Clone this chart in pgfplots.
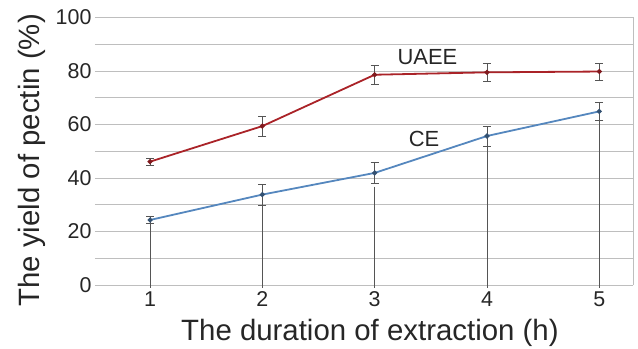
\documentclass[border=0pt]{standalone}
\usepackage{fontspec}
\setmainfont{Liberation Sans}
\usepackage{pgfplots}
\pgfplotsset{compat=1.18}
\definecolor{uaee}{RGB}{170,35,40}
\definecolor{ce}{RGB}{85,135,190}
\definecolor{gridc}{RGB}{190,190,190}
\definecolor{errc}{RGB}{85,85,85}
\begin{document}
\begin{tikzpicture}
\begin{axis}[
 scale only axis, width=538bp, height=267.5bp,
 xmin=0.51, xmax=5.30, ymin=0, ymax=100,
 xtick={1,2,3,4,5}, ytick={0,20,40,60,80,100},
 minor ytick={10,30,50,70,90},
 ymajorgrids, yminorgrids,
 major grid style={gridc, line width=0.9bp},
 minor grid style={gridc, line width=0.9bp},
 axis line style={draw=none},
 major tick length=0pt, minor tick length=0pt,
 tick label style={font=\fontsize{21.5}{24}\selectfont, text=black!85},
 xticklabel style={yshift=-3bp},
 /pgf/number format/assume math mode=true,
 xlabel={The duration of extraction (h)},
 ylabel={The yield of pectin (\%)},
 label style={font=\fontsize{29.5}{32}\selectfont, text=black!85},
 xlabel style={at={(ticklabel cs:0.511)}, yshift=-6bp},
 ylabel style={at={(ticklabel cs:0.466)}, yshift=3bp},
 clip=false,
 after end axis/.code={\draw[gridc, line width=0.9bp] (rel axis cs:1,0) -- (rel axis cs:1,1);},
]
% drop lines under CE
\addplot[draw=none, no marks, forget plot,
 error bars/.cd, y dir=minus, y explicit,
 error bar style={errc, line width=0.6bp}, error mark=none]
 coordinates {
 (1,22.9) -= (0,24.1)
 (2,29.9) -= (0,31.1)
 (3,36.8) -= (0,38.0)
 (4,51.8) -= (0,53.0)
 (5,61.6) -= (0,62.8)};
% UAEE
\addplot[uaee, line width=1.8bp, mark=*, mark size=1.5bp,
 mark options={fill=uaee!75!black, draw=uaee!75!black},
 error bars/.cd, y dir=both, y explicit,
 error bar style={errc, line width=0.6bp},
 error mark options={rotate=90, mark size=4bp, errc, line width=0.6bp}]
 coordinates {
 (1,46.1) +- (0,1.4)
 (2,59.4) +- (0,3.7)
 (3,78.6) +- (0,3.6)
 (4,79.5) +- (0,3.3)
 (5,79.8) +- (0,3.2)};
% CE
\addplot[ce, line width=1.8bp, mark=*, mark size=1.5bp,
 mark options={fill=ce!60!black, draw=ce!60!black},
 error bars/.cd, y dir=both, y explicit,
 error bar style={errc, line width=0.6bp},
 error mark options={rotate=90, mark size=4bp, errc, line width=0.6bp}]
 coordinates {
 (1,24.3) +- (0,1.4)
 (2,33.8) +- (0,3.9)
 (3,41.9) +- (0,3.8)
 (4,55.7) +- (0,3.7)
 (5,64.9) +- (0,3.4)};
\node[font=\fontsize{22}{24}\selectfont, text=black!85] at (axis cs:3.47,85.2) {UAEE};
\node[font=\fontsize{22}{24}\selectfont, text=black!85] at (axis cs:3.44,54.6) {CE};
\end{axis}
\pgfresetboundingbox
\path ([shift={(-95bp,-64bp)}]current axis.south west) rectangle ([shift={(5bp,17.5bp)}]current axis.north east);
\end{tikzpicture}
\end{document}
